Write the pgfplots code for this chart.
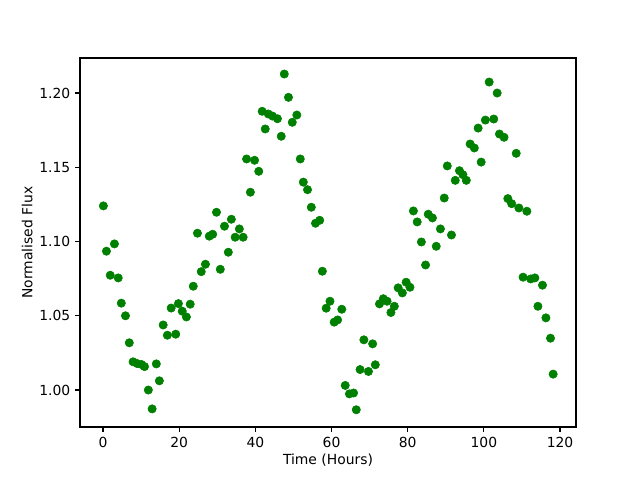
\documentclass[border=0pt]{standalone}
\usepackage{pgfplots}
\pgfplotsset{compat=1.18}
\usepackage{fontspec}
\setmainfont{DejaVu Sans}
\definecolor{mplgreen}{HTML}{008000}
\begin{document}
\begin{tikzpicture}
\begin{axis}[
  scale only axis,
  width=357.12pt, height=265.68pt,
  xmin=-6.04, xmax=124.2,
  ymin=0.9751, ymax=1.2236,
  xtick={0,20,40,60,80,100,120},
  ytick={1.00,1.05,1.10,1.15,1.20},
  yticklabel style={/pgf/number format/.cd,fixed,fixed zerofill,precision=2},
  /pgf/number format/assume math mode=true,
  tick align=outside,
  tick pos=left,
  major tick length=3.5pt,
  tick style={black, line width=0.8pt},
  axis line style={line width=0.8pt},
  ticklabel style={font=\fontsize{10}{12}\selectfont},
  label style={font=\fontsize{10}{12}\selectfont},
  xlabel={Time (Hours)},
  ylabel={Normalised Flux},
  xlabel style={yshift=2pt},
  ylabel style={yshift=-2pt},
]
\coordinate (ll) at (rel axis cs:0,0);
\coordinate (ur) at (rel axis cs:1,1);
\addplot[only marks, mark=*, mark size=3pt, color=mplgreen, mark options={draw=mplgreen, fill=mplgreen}] coordinates {
(0.1,1.124)(0.9,1.0935)(1.9,1.0773)(3.0,1.0984)(4.0,1.0755)(4.8,1.0585)(5.9,1.050)(6.9,1.0318)(7.9,1.019)(9.0,1.0178)
(10.1,1.0172)(10.9,1.0158)(11.9,1.000)(12.9,0.9873)(14.0,1.0176)(14.8,1.0062)(15.8,1.0438)(16.9,1.0369)(17.9,1.0552)(19.1,1.0376)
(19.8,1.0582)(20.8,1.0531)(21.9,1.0492)(22.9,1.0578)(23.7,1.0699)(24.8,1.1056)(25.8,1.0797)(26.9,1.0847)(27.9,1.1036)(28.8,1.1049)
(29.8,1.1197)(30.8,1.0813)(31.9,1.1103)(32.9,1.0928)(33.7,1.115)(34.7,1.1029)(35.8,1.1085)(36.8,1.1029)(37.7,1.1556)(38.7,1.1332)
(39.8,1.1547)(40.9,1.1473)(41.8,1.1877)(42.6,1.1758)(43.4,1.1859)(44.5,1.1845)(45.8,1.1827)(46.8,1.1709)(47.6,1.2128)(48.7,1.1971)
(49.7,1.1803)(50.9,1.1852)(51.8,1.1556)(52.6,1.140)(53.7,1.1349)(54.7,1.1231)(55.8,1.1123)(56.9,1.1143)(57.6,1.080)(58.6,1.0551)
(59.6,1.0598)(60.7,1.0457)(61.6,1.0472)(62.7,1.0544)(63.6,1.0031)(64.7,0.9974)(65.8,0.998)(66.5,0.9867)(67.5,1.0138)(68.5,1.0338)
(69.7,1.0125)(70.8,1.0311)(71.5,1.017)(72.6,1.058)(73.6,1.0615)(74.6,1.0598)(75.6,1.0522)(76.5,1.0564)(77.5,1.0688)(78.6,1.0654)
(79.6,1.0726)(80.6,1.0692)(81.5,1.1206)(82.5,1.1132)(83.6,1.0997)(84.7,1.0842)(85.4,1.1184)(86.5,1.1159)(87.5,1.0968)(88.6,1.1085)
(89.6,1.1293)(90.4,1.1509)(91.5,1.1044)(92.5,1.1412)(93.6,1.1477)(94.5,1.145)(95.4,1.1412)(96.4,1.1657)(97.5,1.163)(98.5,1.1764)
(99.3,1.1535)(100.4,1.1818)(101.4,1.2074)(102.6,1.1825)(103.5,1.200)(104.1,1.1724)(105.3,1.1702)(106.3,1.1289)(107.3,1.1255)(108.5,1.1594)
(109.2,1.1226)(110.3,1.076)(111.3,1.1204)(112.3,1.0748)(113.4,1.0755)(114.2,1.0564)(115.4,1.0706)(116.3,1.0486)(117.5,1.0349)(118.2,1.0107)
};
\end{axis}
\path ([shift={(-57.6pt,-38.16pt)}]ll) rectangle ([shift={(46.08pt,41.76pt)}]ur);
\end{tikzpicture}
\end{document}
